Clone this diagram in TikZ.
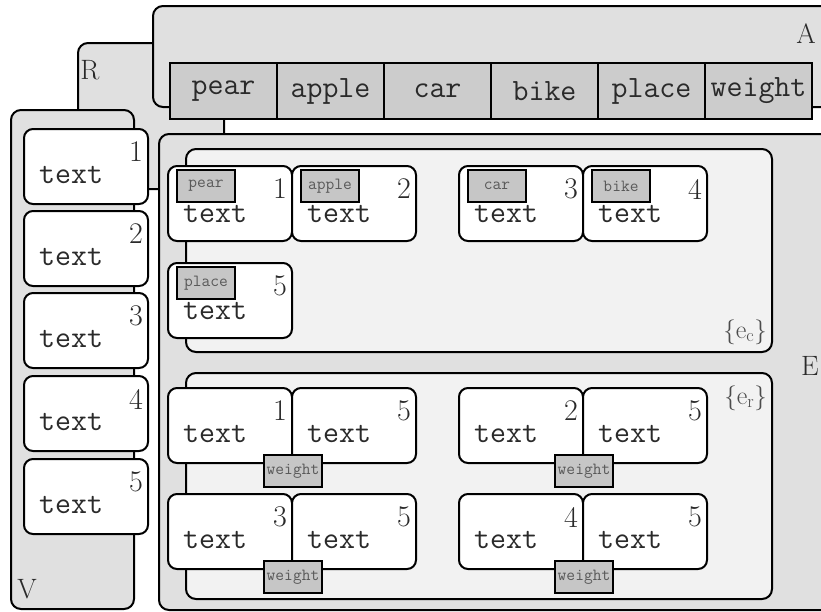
\documentclass[tikz,border=0pt]{standalone}
\usepackage{fontspec}
\usetikzlibrary{calc}
\definecolor{panel}{HTML}{E0E0E0}
\definecolor{hdr}{HTML}{CCCCCC}
\definecolor{inner}{HTML}{F2F2F2}
\definecolor{tagc}{HTML}{C6C6C6}
\definecolor{ink}{HTML}{2A2A2A}
\tikzset{
 panelbox/.style={draw, line width=2pt, rounded corners=10pt, fill=panel, inner sep=0pt, anchor=north west},
 innerbox/.style={draw, line width=2pt, rounded corners=10pt, fill=inner, inner sep=0pt, anchor=north west},
 hcell/.style={draw, line width=2pt, fill=hdr, minimum width=107pt, minimum height=56pt, inner sep=0pt, anchor=north west, font=\ttfamily\fontsize{31}{31}\selectfont, text=ink},
 wbox/.style={draw, line width=2pt, rounded corners=9pt, fill=white, minimum width=124pt, minimum height=75pt, inner sep=0pt, anchor=north west},
 txt/.style={font=\ttfamily\fontsize{31}{31}\selectfont, inner sep=0pt, text=ink},
 num/.style={font=\fontsize{30}{30}\selectfont, inner sep=0pt, text=ink},
 tagbox/.style={draw, line width=2pt, fill=tagc, minimum width=58pt, minimum height=32pt, inner sep=0pt, font=\ttfamily\fontsize{17}{17}\selectfont, text=black!65},
 plabel/.style={font=\fontsize{28}{28}\selectfont, inner sep=0pt, text=ink},
 setlabel/.style={font=\fontsize{26}{26}\selectfont, inner sep=0pt, text=black!70},
}
\newcommand{\myBox}[5]{%
  \node[wbox] (#1) at (#2,-#3) {};
  \node[txt, anchor=base west] (#1-t) at ($(#1.north west)+(16,-#5)$) {text};
  \node[num] (#1-n) at ($(#1.north east)+(-13,-24)$) {#4};
}
\newcommand{\myTag}[2]{\node[tagbox, anchor=north west] (#1-g) at ($(#1.north west)+(9,-4)$) {#2};}
\newcommand{\myWeight}[1]{\node[tagbox] (#1-w) at ($(#1.south east)+(0,-7)$) {weight};}
\begin{document}
\begin{tikzpicture}[x=1pt,y=1pt]
\useasboundingbox (0,0) rectangle (821,-611);
\fill[white] (0,0) rectangle (821,-611);
% big panels
\node[panelbox, minimum width=146pt, minimum height=146pt] (R) at (77,-42) {};
\node[panelbox, minimum width=700pt, minimum height=101pt] (A) at (152,-5) {};
\foreach \w [count=\i] in {pear,apple,car,bike,place,weight}
  \node[hcell] (h\i) at ({169+107*(\i-1)},-62) {\w};
\node[panelbox, minimum width=123pt, minimum height=499pt] (V) at (10,-109) {};
\node[panelbox, minimum width=700pt, minimum height=476pt] (E) at (158,-133) {};
\node[innerbox, minimum width=586pt, minimum height=203pt] (ec) at (185,-148) {};
\node[innerbox, minimum width=586pt, minimum height=226pt] (er) at (185,-372) {};
% panel labels
\node[plabel] (lA) at (806,-34) {A};
\node[plabel] (lR) at (90,-70) {R};
\node[plabel] (lE) at (810,-366) {E};
\node[plabel] (lV) at (27,-589) {V};
\node[setlabel, anchor=east] (lec) at (767,-332) {$\{\mathrm{e}_{\mathrm{c}}\}$};
\node[setlabel, anchor=east] (ler) at (767,-398) {$\{\mathrm{e}_{\mathrm{r}}\}$};
% V boxes
\myBox{v1}{23}{128}{1}{55}
\myBox{v2}{23}{210}{2}{55}
\myBox{v3}{23}{292}{3}{55}
\myBox{v4}{23}{375}{4}{55}
\myBox{v5}{23}{458}{5}{55}
% e_c boxes
\myBox{c1}{167}{165}{1}{57}\myTag{c1}{pear}
\myBox{c2}{291}{165}{2}{57}\myTag{c2}{apple}
\myBox{c3}{458}{165}{3}{57}\myTag{c3}{car}
\myBox{c4}{582}{165}{4}{57}\myTag{c4}{bike}
\myBox{c5}{167}{262}{5}{57}\myTag{c5}{place}
% e_r pairs
\myBox{p1a}{167}{387}{1}{55}\myBox{p1b}{291}{387}{5}{55}\myWeight{p1a}
\myBox{p2a}{458}{387}{2}{55}\myBox{p2b}{582}{387}{5}{55}\myWeight{p2a}
\myBox{p3a}{167}{493}{3}{55}\myBox{p3b}{291}{493}{5}{55}\myWeight{p3a}
\myBox{p4a}{458}{493}{4}{55}\myBox{p4b}{582}{493}{5}{55}\myWeight{p4a}
\end{tikzpicture}
\end{document}
